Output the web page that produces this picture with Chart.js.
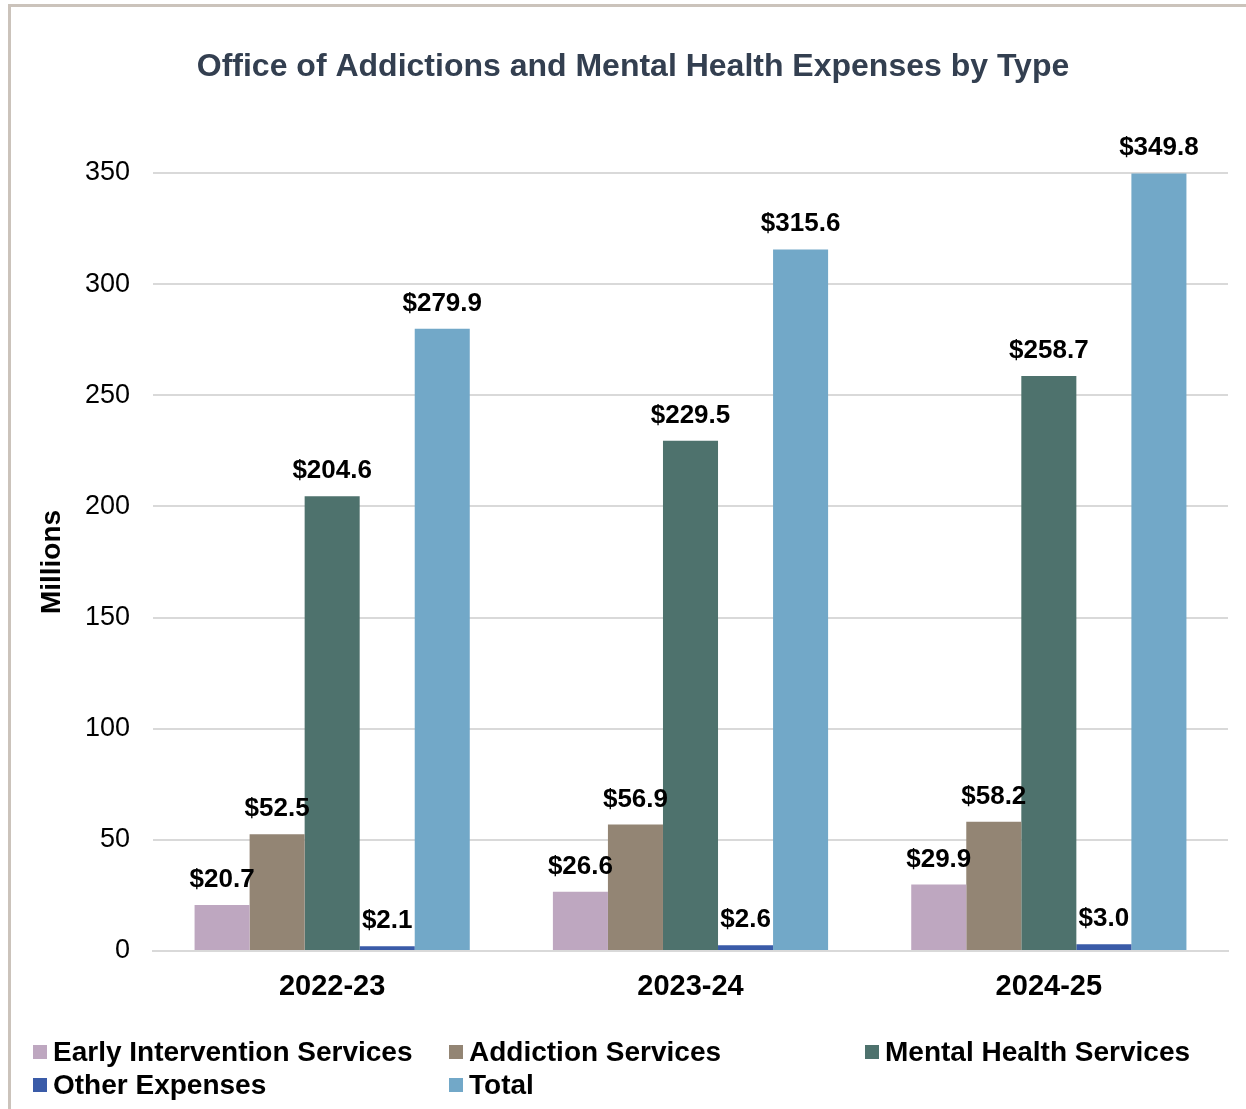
<!DOCTYPE html>
<html>
<head>
<meta charset="utf-8">
<script src="https://cdn.jsdelivr.net/npm/chart.js@4/dist/chart.umd.min.js"></script>
<style>
  html, body { margin: 0; padding: 0; background: #ffffff; overflow: hidden; }
  #wrap { position: relative; width: 1246px; height: 1109px; }
  #frame { position: absolute; left: 8px; top: 4px; width: 3000px; height: 3000px;
           border-left: 3px solid #cbc3bb; border-top: 3px solid #cbc3bb; box-sizing: border-box; }
  canvas { position: absolute; left: 0; top: 0; }
</style>
</head>
<body>
<div id="wrap">
  <div id="frame"></div>
  <canvas id="c" width="1246" height="1109"></canvas>
</div>
<script>
const categories = ['2022-23', '2023-24', '2024-25'];
const seriesNames = ['Early Intervention Services', 'Addiction Services', 'Mental Health Services', 'Other Expenses', 'Total'];
const earlyIntervention = [20.7, 26.6, 29.9];
const addiction = [52.5, 56.9, 58.2];
const mentalHealth = [204.6, 229.5, 258.7];
const otherExpenses = [2.1, 2.6, 3.0];
const total = [279.9, 315.6, 349.8];
const seriesColors = ['#bea7c0', '#938574', '#4e726d', '#3a5ba8', '#72a8c8'];
const yTicks = [0, 50, 100, 150, 200, 250, 300, 350];

const FONT = '"Liberation Sans", Arial, Helvetica, sans-serif';
const values = [earlyIntervention, addiction, mentalHealth, otherExpenses, total];

const dataLabelPlugin = {
  id: 'dataLabels',
  afterDatasetsDraw(chart) {
    const ctx = chart.ctx;
    ctx.save();
    ctx.font = 'bold 26px ' + FONT;
    ctx.fillStyle = '#000000';
    ctx.textAlign = 'center';
    ctx.textBaseline = 'alphabetic';
    chart.data.datasets.forEach((ds, i) => {
      const meta = chart.getDatasetMeta(i);
      meta.data.forEach((bar, j) => {
        const v = ds.data[j];
        ctx.fillText('$' + v.toFixed(1), bar.x, bar.y - 18);
      });
    });
    ctx.restore();
  }
};

const legendPlugin = {
  id: 'gridLegend',
  afterDraw(chart) {
    const ctx = chart.ctx;
    const cols = [33, 449, 865];
    const rows = [1052, 1085];
    ctx.save();
    ctx.font = 'bold 28px ' + FONT;
    ctx.textBaseline = 'middle';
    ctx.textAlign = 'left';
    chart.data.datasets.forEach((ds, i) => {
      const x = cols[i % 3];
      const y = rows[Math.floor(i / 3)];
      ctx.fillStyle = ds.backgroundColor;
      ctx.fillRect(x, y - 7, 14, 14);
      ctx.fillStyle = '#000000';
      ctx.fillText(ds.label, x + 20, y + 1);
    });
    ctx.restore();
  }
};

new Chart(document.getElementById('c'), {
  type: 'bar',
  data: {
    labels: categories,
    datasets: seriesNames.map((name, i) => ({
      label: name,
      data: values[i],
      backgroundColor: seriesColors[i],
      borderWidth: 0,
      categoryPercentage: 0.768,
      barPercentage: 1.0
    }))
  },
  options: {
    responsive: false,
    animation: false,
    devicePixelRatio: 1,
    layout: { padding: { left: 38, right: 18, top: 0, bottom: 106 } },
    plugins: {
      legend: { display: false },
      tooltip: { enabled: false },
      title: {
        display: true,
        text: 'Office of Addictions and Mental Health Expenses by Type',
        color: '#333f50',
        font: { family: FONT, size: 32, weight: 'bold', lineHeight: 1.2 },
        padding: { top: 48, bottom: 86.6 }
      }
    },
    scales: {
      x: {
        grid: { display: false, drawTicks: false },
        border: { display: true, color: '#d9d9d9', width: 2 },
        ticks: { color: '#000000', font: { family: FONT, size: 29, weight: 'bold' }, padding: 19 },
        afterFit(scale) { scale.height = 52; }
      },
      y: {
        min: 0,
        max: 350,
        afterBuildTicks(scale) { scale.ticks = yTicks.map(v => ({ value: v })); },
        grid: { color: '#d9d9d9', lineWidth: 2, drawTicks: false },
        border: { display: false },
        ticks: { color: '#000000', font: { family: FONT, size: 27 }, padding: 23 },
        title: {
          display: true,
          text: 'Millions',
          color: '#000000',
          font: { family: FONT, size: 28, weight: 'bold', lineHeight: 1.0 },
          padding: { top: 0, bottom: 0 }
        },
        afterFit(scale) { scale.width = 115; }
      }
    }
  },
  plugins: [dataLabelPlugin, legendPlugin]
});
</script>
</body>
</html>
